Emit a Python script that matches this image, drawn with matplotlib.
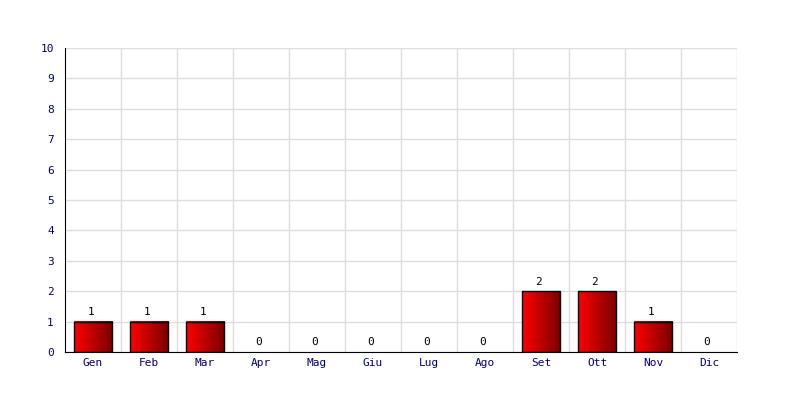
import matplotlib
matplotlib.use("Agg")
import matplotlib.pyplot as plt
import numpy as np
from matplotlib.colors import LinearSegmentedColormap

months = ["Gen", "Feb", "Mar", "Apr", "Mag", "Giu", "Lug", "Ago", "Set", "Ott", "Nov", "Dic"]
values = [1, 1, 1, 0, 0, 0, 0, 0, 2, 2, 1, 0]
yticks = list(range(0, 11))

plt.rcParams['font.family'] = ['DejaVu Sans Mono']
fig = plt.figure(figsize=(8, 4), dpi=100)
ax = fig.add_axes([65/800, 48/400, (737-65)/800, (352-48)/400])

x = np.arange(len(months))
width = 0.68
cmap = LinearSegmentedColormap.from_list("rg", ["#ff0000", "#7a0000"])
grad = np.linspace(0, 1, 256).reshape(1, -1)

ax.set_xlim(-0.5, len(months) - 0.5)
ax.set_ylim(0, 10)

for xi, v in zip(x, values):
    if v > 0:
        ax.imshow(grad, cmap=cmap, aspect='auto',
                  extent=(xi - width/2, xi + width/2, 0, v), zorder=2)
        ax.bar(xi, v, width=width, facecolor='none', edgecolor='black', linewidth=1, zorder=3)
    ax.text(xi - 0.04, v + 0.15, str(v), ha='center', va='bottom', fontsize=8, color='black', zorder=4)

ax.set_xlim(-0.5, len(months) - 0.5)
ax.set_ylim(0, 10)
ax.set_xticks(x)
ax.set_xticklabels(months)
ax.set_xticks(np.arange(0.5, len(months) - 0.5 + 1), minor=True)
ax.set_yticks(yticks)
ax.tick_params(axis='both', colors='#000080', labelsize=8)
ax.tick_params(axis='x', which='minor', length=0)
ax.tick_params(axis='x', which='major', length=0, pad=4)
ax.tick_params(axis='y', length=0, pad=8)
for lab in ax.get_xticklabels() + ax.get_yticklabels():
    lab.set_color('#000080')

ax.grid(True, which='minor', axis='x', color='#dddddd', linewidth=1, zorder=0)
ax.grid(True, which='major', axis='y', color='#dddddd', linewidth=1, zorder=0)
ax.set_axisbelow(True)
ax.spines['top'].set_visible(False)
ax.spines['right'].set_visible(False)
ax.spines['left'].set_color('black')
ax.spines['bottom'].set_color('black')

fig.savefig("out.png", dpi=100, facecolor='white')
